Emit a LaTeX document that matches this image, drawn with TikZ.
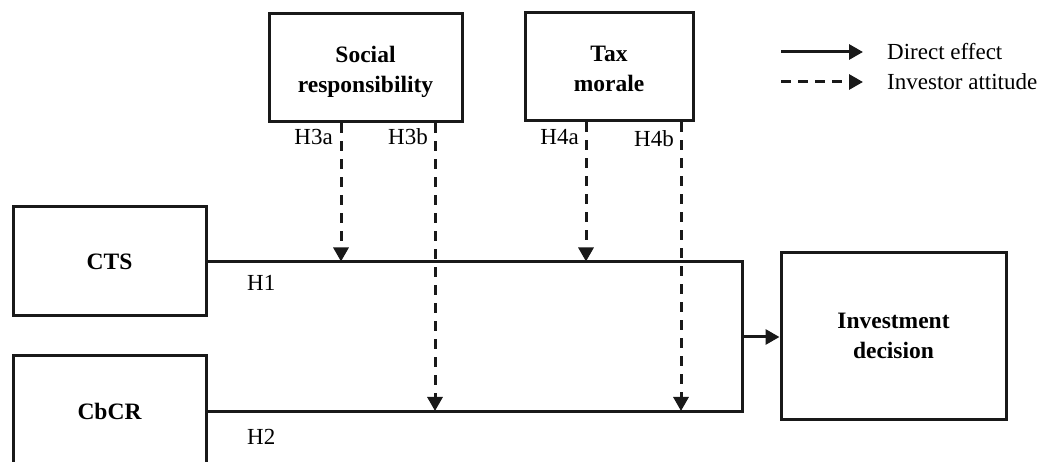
\documentclass[tikz,border=0pt]{standalone}
\usepackage{fontspec}
\setmainfont{Liberation Serif}
\usetikzlibrary{arrows.meta}
\newcommand{\twolines}[3]{\raisebox{#1}[\height][\depth]{\begin{tabular}{@{}c@{}}#2\\#3\end{tabular}}}
\begin{document}
\begin{tikzpicture}[x=1pt,y=-1pt,
  box/.style={draw=black!90,line width=3pt,inner sep=0pt,align=center,
    font=\fontsize{23.5}{30}\selectfont\bfseries},
  lbl/.style={inner sep=0pt,font=\fontsize{23}{28}\selectfont},
  conn/.style={draw=black!90,line width=3pt},
  tip/.style={-{Triangle[length=14pt,width=15pt]}},
  dsh/.style={conn,dash pattern=on 10pt off 8pt},
]
\useasboundingbox (0,0) rectangle (1042,462);
\clip (0,0) rectangle (1042,462);
\node[box,minimum width=193pt,minimum height=108pt] (soc) at (365.5,68) {\twolines{-4pt}{Social}{responsibility}};
\node[box,minimum width=168pt,minimum height=108pt] (tax) at (609,67) {\twolines{-4pt}{Tax}{morale}};
\node[box,minimum width=193pt,minimum height=109pt] (cts) at (109.5,261.5) {CTS};
\node[box,minimum width=193pt,minimum height=110pt] (cbcr) at (109.5,411) {CbCR};
\node[box,minimum width=225pt,minimum height=166pt] (inv) at (893.5,336) {\twolines{-2pt}{Investment}{decision}};
\coordinate (c1) at (742,261.5);
\coordinate (c2) at (742,411);
\coordinate (cm) at (742,337);
\draw[conn] (cts.east) -- (c1) -- (c2) -- (cbcr.east);
\draw[conn,tip] (cm) -- (cm -| inv.west);
\coordinate (m1) at (341,261.5);
\coordinate (m2) at (435,411);
\coordinate (m3) at (586,261.5);
\coordinate (m4) at (681,411);
\draw[dsh,tip] (soc.south -| m1) -- (m1);
\draw[dsh,tip] (soc.south -| m2) -- (m2);
\draw[dsh,tip] (tax.south -| m3) -- (m3);
\draw[dsh,tip] (tax.south -| m4) -- (m4);
\node[lbl,anchor=east] (h3a) at (333,137) {H3a};
\node[lbl,anchor=east] (h3b) at (428,137) {H3b};
\node[lbl,anchor=east] (h4a) at (579,137) {H4a};
\node[lbl,anchor=east] (h4b) at (674,139) {H4b};
\node[lbl,anchor=west] (h1) at (247,283) {H1};
\node[lbl,anchor=west] (h2) at (247,437) {H2};
\coordinate (l1a) at (781,52);
\coordinate (l1b) at (863,52);
\coordinate (l2a) at (781,82);
\coordinate (l2b) at (863,82);
\draw[conn,tip] (l1a) -- (l1b);
\draw[dsh,tip,dash pattern=on 10pt off 7pt] (l2a) -- (l2b);
\node[lbl,anchor=west] (t1) at (887,52) {Direct effect};
\node[lbl,anchor=west] (t2) at (887,82) {Investor attitude};
\end{tikzpicture}
\end{document}
